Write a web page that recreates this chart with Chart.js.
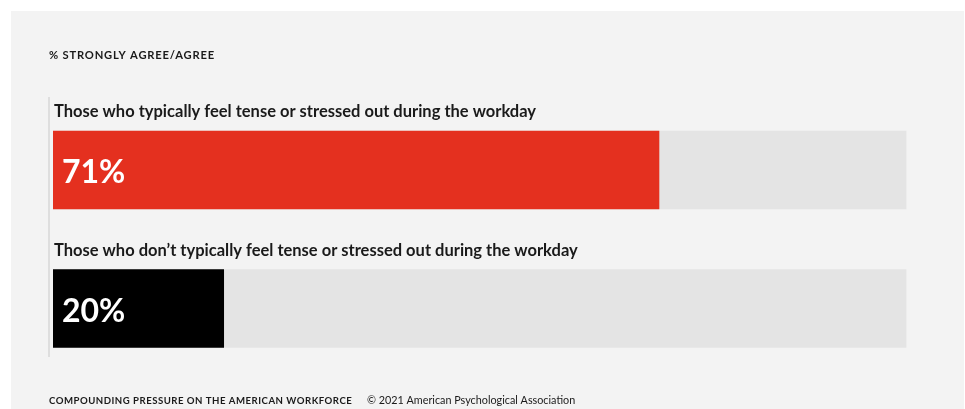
<!DOCTYPE html>
<html>
<head>
<meta charset="utf-8">
<script src="https://cdn.jsdelivr.net/npm/chart.js@4/dist/chart.umd.min.js"></script>
<style>
  html, body { margin: 0; padding: 0; background: #fff; }
  #wrap { width: 965px; height: 409px; position: relative; }
</style>
</head>
<body>
<div id="wrap"><canvas id="stressChart"></canvas></div>
<script>
const categorias = [
  'Those who typically feel tense or stressed out during the workday',
  'Those who don\u2019t typically feel tense or stressed out during the workday'
];
const valores = [71, 20];
const fondo = [100, 100];
const coloresBarras = ['#e4301f', '#000000'];

const titulo = '% STRONGLY AGREE/AGREE';
const pieSerie = 'COMPOUNDING PRESSURE ON THE AMERICAN WORKFORCE';
const pieCopyright = '\u00a9 2021 American Psychological Association';

// Panel gris, textos de cabecera y pie, y etiquetas de cada barra
const decoracion = {
  id: 'decoracion',
  beforeDraw(chart) {
    const ctx = chart.ctx;
    ctx.save();
    ctx.fillStyle = '#f3f3f3';
    ctx.fillRect(11, 11, 953, 398);
    ctx.strokeStyle = '#dedede';
    ctx.lineWidth = 2;
    ctx.beginPath();
    ctx.moveTo(49, 97);
    ctx.lineTo(49, 357);
    ctx.stroke();
    ctx.restore();
  },
  afterDatasetsDraw(chart) {
    const ctx = chart.ctx;
    const meta = chart.getDatasetMeta(0);
    ctx.save();
    ctx.textBaseline = 'middle';
    ctx.fillStyle = '#1a1a1a';
    ctx.letterSpacing = '0.8px';
    ctx.font = 'bold 11.2px Lato';
    ctx.fillText(titulo, 49, 55);

    ctx.letterSpacing = '0.5px';
    ctx.font = 'bold 9.6px Lato';
    ctx.fillText(pieSerie, 49, 401);
    ctx.letterSpacing = '0px';
    ctx.font = '10.8px Lato';
    ctx.fillText(pieCopyright, 367, 401);

    meta.data.forEach((barra, i) => {
      const arriba = barra.y - barra.height / 2;
      ctx.fillStyle = '#1a1a1a';
      ctx.font = 'bold 16.5px Lato';
      ctx.fillText(categorias[i], 54, arriba - 19);
      ctx.fillStyle = '#ffffff';
      ctx.font = 'bold 32px Lato';
      ctx.fillText(valores[i] + '%', 62, barra.y + 3);
    });
    ctx.restore();
  }
};

new Chart(document.getElementById('stressChart'), {
  type: 'bar',
  data: {
    labels: categorias,
    datasets: [
      {
        data: valores,
        backgroundColor: coloresBarras,
        barThickness: 78,
        grouped: false,
        order: 0
      },
      {
        data: fondo,
        backgroundColor: '#e4e4e4',
        barThickness: 78,
        grouped: false,
        order: 1
      }
    ]
  },
  options: {
    indexAxis: 'y',
    responsive: true,
    maintainAspectRatio: false,
    animation: false,
    layout: { padding: { left: 53, right: 58.5, top: 100.75, bottom: 31.25 } },
    plugins: {
      legend: { display: false },
      tooltip: { enabled: false }
    },
    scales: {
      x: { display: false, min: 0, max: 100 },
      y: { display: false }
    }
  },
  plugins: [decoracion]
});
</script>
</body>
</html>
